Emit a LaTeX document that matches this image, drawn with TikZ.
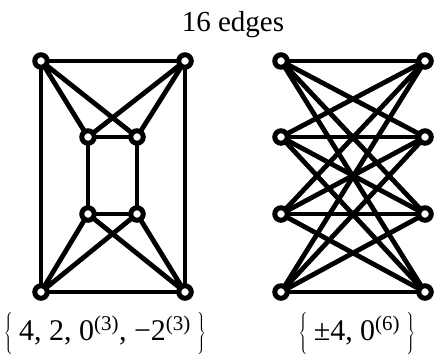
\documentclass[tikz,border=0pt]{standalone}
\usepackage{fontspec}
\setmainfont{Liberation Serif}
\newcommand{\spec}[1]{$\left\{\vphantom{\rule[-10pt]{0pt}{37pt}}\right.$\,#1\,$\left.\vphantom{\rule[-10pt]{0pt}{37pt}}\right\}$}
\begin{document}
\begin{tikzpicture}[x=1pt,y=-1pt,
  vert/.style={circle,draw,fill=white,line width=5pt,minimum size=12.5pt,
    inner sep=0pt,outer sep=0pt},
  edge/.style={line width=4.8pt},
  lbl/.style={anchor=base,font=\fontsize{30}{32}\selectfont}]
  \useasboundingbox (0,0) rectangle (435,353);

  % Title.
  \node[lbl,font=\fontsize{29}{31}\selectfont] (title) at (233,32) {16 edges};

  % Left graph: outer rectangle, inner rectangle.
  \foreach \n/\x/\y in {a1/41/61,a2/185/61,a3/41/292,a4/185/292,
                        b1/88/137,b2/137/137,b3/88/214,b4/137/214}
    \node[vert] (\n) at (\x,\y) {};
  \draw[edge] (a1)--(a2) (a2)--(a4) (a4)--(a3) (a3)--(a1);
  \draw[edge] (b1)--(b2) (b2)--(b4) (b4)--(b3) (b3)--(b1);
  \draw[edge] (a1)--(b1) (a1)--(b2) (a2)--(b1) (a2)--(b2);
  \draw[edge] (a3)--(b3) (a3)--(b4) (a4)--(b3) (a4)--(b4);

  % Right graph: K_{4,4}.
  \foreach \i/\y in {1/61,2/137,3/214,4/292} {
    \node[vert] (c\i) at (281,\y) {};
    \node[vert] (d\i) at (425,\y) {};
  }
  \foreach \i in {1,...,4}
    \foreach \j in {1,...,4}
      \draw[edge] (c\i)--(d\j);

  % Spectra.
  \node[lbl] (specA) at (105,340)
    {\spec{4, 2, 0\textsuperscript{(3)}, −2\textsuperscript{(3)}}};
  \node[lbl] (specB) at (357,340)
    {\spec{±4, 0\textsuperscript{(6)}}};
\end{tikzpicture}
\end{document}
